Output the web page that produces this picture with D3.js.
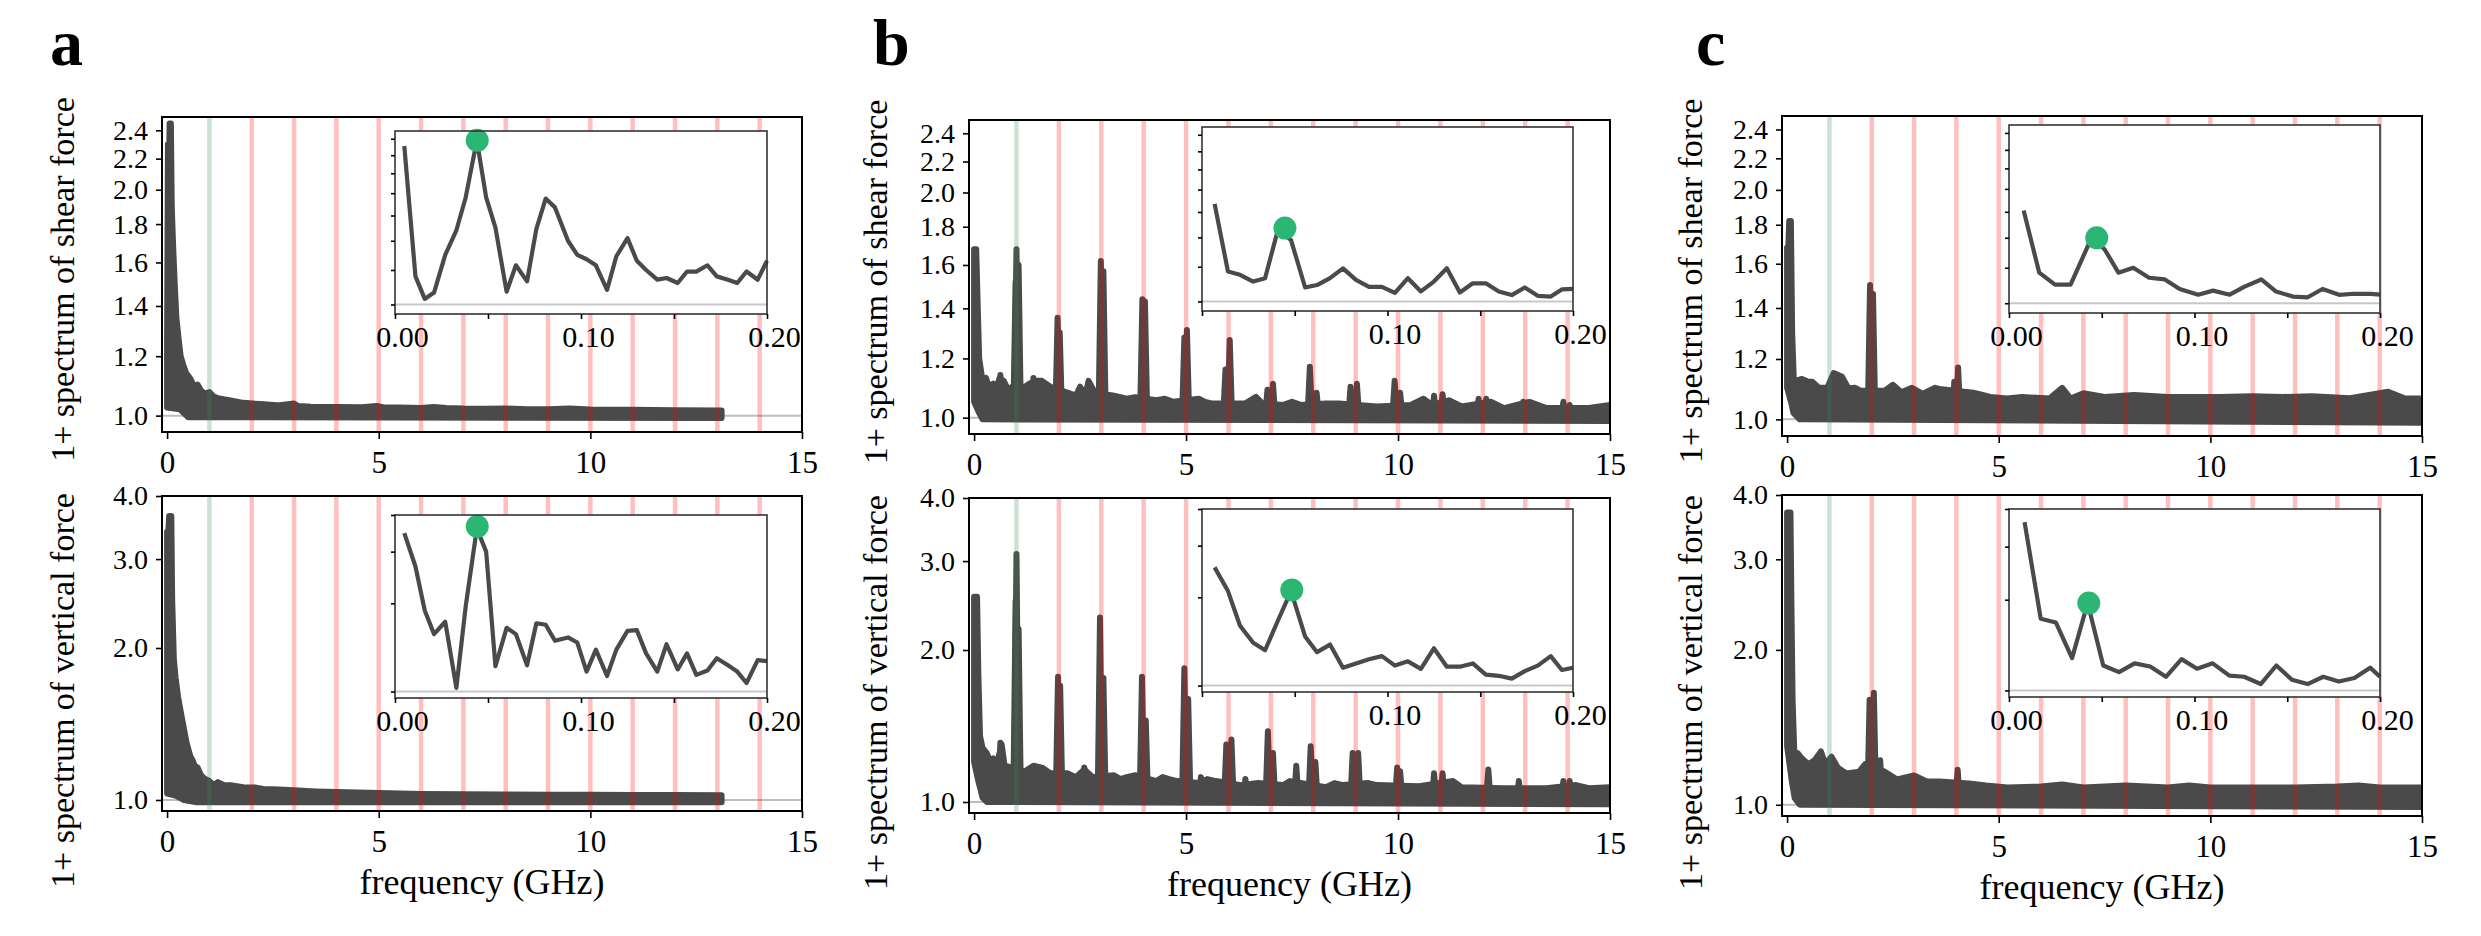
<!DOCTYPE html>
<html>
<head>
<meta charset="utf-8">
<script src="https://cdnjs.cloudflare.com/ajax/libs/d3/7.8.5/d3.min.js"></script>
<style>
  body { margin: 0; background: #fff; }
  svg, svg text { font-family: "Liberation Serif", "Times New Roman", Times, "DejaVu Serif", serif; }
</style>
</head>
<body>
<script>
// ---- tick values / reference lines ----
const xTicks = [0, 5, 10, 15];
const shearTicks = [1.0, 1.2, 1.4, 1.6, 1.8, 2.0, 2.2, 2.4];
const vertTicks = [1.0, 2.0, 3.0, 4.0];
const insetTicks = [0, 0.05, 0.10, 0.15, 0.20];
const insetLabelTicks = [0, 0.10, 0.20];
const greenLines = [1];
const redLines = [2, 3, 4, 5, 6, 7, 8, 9, 10, 11, 12, 13, 14];

// ---- panel a : spectrum envelopes [GHz, 1+spectrum] ----
const aShearUpper = [[0,1.25],[0.02,2.3],[0.04,2.0],[0.06,2.45],[0.09,2.45],[0.11,1.9],[0.14,1.7],[0.18,1.5],[0.22,1.35],[0.27,1.27],[0.32,1.2],[0.38,1.17],[0.45,1.14],[0.55,1.12],[0.65,1.09],[0.72,1.1],[0.8,1.08],[0.9,1.07],[1.0,1.075],[1.1,1.06],[1.2,1.055],[1.5,1.048],[1.8,1.04],[2.2,1.036],[2.6,1.032],[3.0,1.038],[3.1,1.03],[3.4,1.028],[4.0,1.027],[4.6,1.026],[4.95,1.03],[5.1,1.026],[5.5,1.025],[6.0,1.024],[6.3,1.027],[6.6,1.024],[7.0,1.022],[7.5,1.021],[8.0,1.022],[8.5,1.02],[9,1.02],[9.5,1.022],[10,1.019],[11,1.018],[12,1.017],[13.1,1.016]];
const aShearLower = [[0,1.025],[0.3,1.02],[0.5,0.995],[13.1,0.993]];
const aShearSpikes = [];
const aVertUpper = [[0,3.4],[0.03,3.4],[0.05,3.65],[0.1,3.65],[0.12,2.5],[0.16,1.9],[0.2,1.75],[0.26,1.6],[0.32,1.5],[0.4,1.38],[0.46,1.3],[0.55,1.22],[0.6,1.2],[0.65,1.17],[0.72,1.16],[0.8,1.12],[0.9,1.1],[1.0,1.09],[1.1,1.07],[1.2,1.085],[1.35,1.07],[1.5,1.07],[1.8,1.06],[2.1,1.058],[2.3,1.05],[2.5,1.05],[3.0,1.045],[3.5,1.04],[4.0,1.037],[4.5,1.035],[5.0,1.032],[6,1.028],[7,1.026],[8,1.025],[9,1.024],[10,1.024],[11,1.023],[12,1.023],[13.1,1.022]];
const aVertLower = [[0,1.03],[0.2,1.02],[0.4,1.0],[0.7,0.99],[13.1,0.99]];
const aVertSpikes = [];

// ---- panel b ----
const bShearUpper = [[0,1.68],[0.05,1.68],[0.08,1.45],[0.12,1.2],[0.2,1.12],[0.28,1.13],[0.35,1.1],[0.45,1.11],[0.52,1.09],[0.6,1.13],[0.7,1.12],[0.8,1.09],[0.9,1.1],[1.2,1.1],[1.3,1.11],[1.45,1.12],[1.6,1.12],[1.8,1.1],[2.2,1.08],[2.4,1.07],[2.5,1.1],[2.62,1.07],[2.7,1.12],[2.85,1.08],[3.3,1.07],[3.6,1.06],[3.8,1.065],[4.3,1.055],[4.5,1.06],[4.7,1.05],[5.3,1.06],[5.45,1.05],[5.6,1.045],[6.4,1.045],[6.65,1.066],[6.8,1.045],[7.3,1.04],[7.5,1.05],[7.7,1.04],[8.3,1.045],[8.6,1.045],[9.5,1.035],[10.3,1.04],[10.6,1.06],[10.8,1.04],[11.2,1.055],[11.5,1.035],[12.2,1.05],[12.5,1.03],[13.1,1.05],[13.5,1.03],[14.5,1.03],[15,1.04]];
const bShearLower = [[0,1.05],[0.1,1.02],[0.2,0.995],[15,0.99]];
const bShearSpikes = [[0.98,1.52],[1.0,1.68],[1.05,1.6],[1.97,1.36],[2.02,1.3],[2.99,1.62],[3.05,1.57],[3.97,1.44],[4.03,1.43],[4.96,1.28],[5.02,1.31],[5.93,1.16],[6.03,1.27],[6.92,1.09],[7.05,1.11],[7.92,1.17],[8.08,1.08],[8.88,1.1],[9.03,1.11],[9.92,1.12],[10.05,1.08],[10.85,1.07],[11.05,1.075],[11.9,1.06],[12.08,1.06],[12.95,1.05],[13.9,1.05],[14.05,1.04],[0.62,1.14],[1.4,1.13]];
const bVertUpper = [[0,2.55],[0.07,2.55],[0.1,1.8],[0.14,1.35],[0.2,1.28],[0.3,1.25],[0.38,1.2],[0.45,1.22],[0.55,1.2],[0.65,1.3],[0.72,1.18],[0.9,1.17],[1.2,1.15],[1.4,1.18],[1.6,1.17],[1.8,1.14],[2.2,1.14],[2.4,1.12],[2.6,1.16],[2.8,1.12],[3.3,1.13],[3.45,1.11],[3.6,1.12],[3.8,1.13],[4.3,1.1],[4.45,1.12],[4.6,1.11],[4.8,1.1],[5.3,1.09],[5.5,1.11],[5.7,1.1],[6.3,1.08],[6.7,1.09],[7.3,1.08],[7.45,1.1],[8.3,1.07],[8.5,1.09],[8.7,1.08],[9.3,1.09],[9.5,1.08],[10.5,1.075],[11.3,1.1],[11.5,1.07],[12.5,1.065],[13.5,1.065],[14.2,1.08],[14.5,1.065],[15,1.07]];
const bVertLower = [[0,1.2],[0.1,1.1],[0.2,1.02],[0.3,1.0],[15,0.99]];
const bVertSpikes = [[0.98,2.5],[1.0,3.1],[1.05,2.2],[1.98,1.77],[2.03,1.7],[2.97,2.32],[3.05,1.76],[3.96,1.77],[4.05,1.45],[4.96,1.84],[5.05,1.6],[5.95,1.3],[6.07,1.33],[6.93,1.38],[7.05,1.25],[7.6,1.18],[7.94,1.29],[8.05,1.2],[8.93,1.25],[9.06,1.25],[9.98,1.17],[10.05,1.15],[10.85,1.14],[11.05,1.14],[12.13,1.16],[12.85,1.1],[13.9,1.1],[14.05,1.1],[0.62,1.31],[2.6,1.17],[5.35,1.12],[6.4,1.11]];

// ---- panel c ----
const cShearUpper = [[0,1.68],[0.03,1.68],[0.05,1.82],[0.09,1.82],[0.12,1.3],[0.16,1.12],[0.25,1.126],[0.35,1.13],[0.5,1.12],[0.6,1.12],[0.75,1.1],[0.95,1.1],[1.1,1.15],[1.3,1.137],[1.45,1.098],[1.6,1.1],[1.75,1.09],[2.3,1.09],[2.5,1.11],[2.7,1.085],[2.95,1.1],[3.2,1.08],[3.5,1.1],[3.65,1.095],[4.4,1.084],[4.8,1.07],[5.2,1.065],[5.55,1.07],[6.2,1.065],[6.5,1.1],[6.7,1.065],[7.0,1.082],[7.5,1.07],[8.2,1.076],[9,1.07],[10.2,1.07],[11,1.072],[11.7,1.07],[12.4,1.072],[13.3,1.066],[14.2,1.087],[14.6,1.065],[15,1.065]];
const cShearLower = [[0,1.1],[0.1,1.05],[0.15,1.02],[0.3,1.0],[15,0.99]];
const cShearSpikes = [[1.96,1.5],[2.03,1.46],[3.95,1.12],[4.04,1.17]];
const cVertUpper = [[0,3.7],[0.08,3.7],[0.1,2.55],[0.13,1.6],[0.18,1.2],[0.25,1.26],[0.35,1.23],[0.5,1.2],[0.65,1.22],[0.8,1.27],[0.9,1.2],[1.05,1.24],[1.2,1.18],[1.4,1.15],[1.7,1.16],[1.85,1.2],[2.3,1.16],[2.6,1.12],[3.0,1.14],[3.3,1.11],[3.6,1.11],[4.3,1.1],[4.7,1.09],[5.2,1.08],[6,1.085],[6.5,1.095],[7,1.08],[8,1.09],[9,1.08],[9.5,1.09],[10,1.08],[11,1.08],[12,1.08],[13,1.085],[13.5,1.09],[14,1.08],[15,1.08]];
const cVertLower = [[0,1.3],[0.12,1.1],[0.18,1.03],[0.3,1.0],[15,0.99]];
const cVertSpikes = [[1.95,1.6],[2.05,1.65],[2.2,1.22],[4.03,1.17]];

// ---- inset curves (low frequency zoom, GHz) ----
const insetFreqA = [0.005,0.011,0.016,0.021,0.027,0.033,0.038,0.044,0.049,0.054,0.060,0.065,0.071,0.076,0.081,0.086,0.093,0.098,0.103,0.108,0.114,0.119,0.125,0.130,0.135,0.141,0.146,0.152,0.157,0.162,0.168,0.173,0.179,0.184,0.189,0.195,0.200];
const insetAShear = [2.31,1.16,1.03,1.065,1.30,1.48,1.76,2.38,1.76,1.50,1.07,1.23,1.13,1.49,1.75,1.67,1.40,1.30,1.27,1.23,1.08,1.29,1.42,1.26,1.20,1.14,1.15,1.12,1.19,1.19,1.23,1.16,1.14,1.12,1.19,1.14,1.26];
const insetAVert = [3.47,2.67,1.89,1.57,1.73,1.03,1.95,3.6,3.0,1.22,1.65,1.57,1.23,1.71,1.69,1.49,1.53,1.47,1.17,1.39,1.13,1.39,1.61,1.62,1.35,1.17,1.45,1.19,1.35,1.14,1.18,1.30,1.23,1.17,1.07,1.28,1.27];
const insetFreqB = [0.0068,0.014,0.0205,0.0276,0.034,0.041,0.048,0.0556,0.062,0.069,0.076,0.083,0.090,0.097,0.104,0.111,0.118,0.125,0.132,0.139,0.146,0.153,0.160,0.167,0.174,0.181,0.188,0.194,0.200];
const insetBShear = [1.67,1.17,1.15,1.11,1.13,1.46,1.38,1.076,1.09,1.13,1.19,1.12,1.08,1.08,1.046,1.13,1.054,1.11,1.19,1.048,1.10,1.10,1.054,1.034,1.076,1.03,1.026,1.065,1.068];
const insetBVert = [2.53,2.10,1.60,1.40,1.32,1.67,2.10,1.47,1.30,1.38,1.15,1.19,1.23,1.26,1.17,1.21,1.14,1.34,1.16,1.16,1.19,1.09,1.08,1.056,1.12,1.17,1.26,1.13,1.15];
const insetFreqCShear = [0.0079,0.0163,0.0248,0.0332,0.0445,0.0515,0.059,0.067,0.0755,0.084,0.092,0.102,0.110,0.119,0.127,0.136,0.144,0.153,0.161,0.169,0.178,0.186,0.195,0.200];
const insetCShear = [1.61,1.17,1.10,1.10,1.40,1.32,1.17,1.20,1.14,1.13,1.076,1.045,1.067,1.045,1.089,1.13,1.062,1.035,1.031,1.076,1.044,1.05,1.049,1.045];
const insetFreqCVert = [0.0084,0.0171,0.0253,0.034,0.0424,0.0508,0.0593,0.0677,0.0761,0.0846,0.093,0.1014,0.1098,0.1188,0.1267,0.1357,0.1441,0.1525,0.161,0.1694,0.1778,0.1862,0.1947,0.200];
const insetCVert = [3.62,1.73,1.68,1.28,1.95,1.21,1.15,1.23,1.20,1.11,1.27,1.18,1.23,1.12,1.11,1.05,1.21,1.085,1.05,1.11,1.07,1.10,1.19,1.11];
// green markers [GHz, value]
const peakAShear = [0.0442, 2.38], peakAVert = [0.0442, 3.66];
const peakBShear = [0.0447, 1.47], peakBVert = [0.0484, 2.12];
const peakCShear = [0.0473, 1.40], peakCVert = [0.043, 1.95];

// ---- drawing ----
const W = 2481, H = 936;
const lineColor = '#4a4a4a';
const serif = '"Liberation Serif", "Times New Roman", Times, "DejaVu Serif", serif';
var svg = d3.select('body').append('svg').attr('width', W).attr('height', H);
svg.append('rect').attr('width', W).attr('height', H).attr('fill', '#fff');
var clipCount = 0;

function styleAxis(g) {
    g.attr('font-family', null);
    g.select('.domain').remove();
    g.selectAll('.tick line').attr('stroke', '#000').attr('stroke-width', 1.6);
    g.selectAll('.tick text').filter(function () { return this.textContent === ''; }).remove();
}

function createInset(spec) {
    var inset = spec;
    inset.draw = function (g) {
        var x = d3.scaleLinear().domain([0, 0.2]).range([spec.x0, spec.x1]);
        var y = d3.scaleLog().domain(spec.yDomain).range([spec.bottom, spec.top]);
        g.append('rect').attr('x', spec.x0).attr('y', spec.top)
            .attr('width', spec.x1 - spec.x0).attr('height', spec.bottom - spec.top)
            .attr('fill', '#fff');
        g.append('line').attr('x1', spec.x0).attr('x2', spec.x1)
            .attr('y1', y(1)).attr('y2', y(1))
            .attr('stroke', '#c8c8c8').attr('stroke-width', 2);
        var pts = spec.freq.map((f, i) => [f, spec.vals[i]]);
        g.append('path').attr('d', d3.line().x(d => x(d[0])).y(d => y(d[1]))(pts))
            .attr('fill', 'none').attr('stroke', lineColor).attr('stroke-width', 4.2)
            .attr('stroke-linejoin', 'round');
        g.append('circle').attr('cx', x(spec.peak[0])).attr('cy', y(spec.peak[1]))
            .attr('r', 11.5).attr('fill', '#2bb673');
        g.append('rect').attr('x', spec.x0).attr('y', spec.top)
            .attr('width', spec.x1 - spec.x0).attr('height', spec.bottom - spec.top)
            .attr('fill', 'none').attr('stroke', '#333').attr('stroke-width', 1.6);

        var labels = spec.showZero ? insetLabelTicks : insetLabelTicks.slice(1);
        var xa = g.append('g').attr('transform', `translate(0,${spec.bottom})`)
            .call(d3.axisBottom(x).tickValues(insetTicks).tickSize(5).tickPadding(7)
                .tickFormat(d => labels.indexOf(d) >= 0 ? d3.format('.2f')(d) : ''));
        styleAxis(xa);
        xa.selectAll('text').attr('font-size', 30).attr('dx', 7);
        var ya = g.append('g').attr('transform', `translate(${spec.x0},0)`)
            .call(d3.axisLeft(y).tickValues(spec.yTicks).tickSize(4).tickFormat(''));
        styleAxis(ya);
    };
    return inset;
}

function createAxes(spec) {
    var ax = spec;
    ax.draw = function (g) {
        var x = d3.scaleLinear().domain([-0.12, 15]).range([spec.x0, spec.x1]);
        var y = d3.scaleLog().domain(spec.yDomain).range([spec.bottom, spec.top]);
        var id = 'clip' + (clipCount++);
        g.append('clipPath').attr('id', id).append('rect')
            .attr('x', spec.x0).attr('y', spec.top)
            .attr('width', spec.x1 - spec.x0).attr('height', spec.bottom - spec.top);
        var plot = g.append('g').attr('clip-path', `url(#${id})`);

        // baseline at 1
        plot.append('line').attr('x1', spec.x0).attr('x2', spec.x1)
            .attr('y1', y(1)).attr('y2', y(1))
            .attr('stroke', '#bdbdbd').attr('stroke-width', 2);

        // noisy spectrum drawn as its envelope band
        var band = spec.upper.concat(spec.lower.slice().reverse());
        var line = d3.line().x(d => x(d[0])).y(d => y(d[1]));
        plot.append('path').attr('d', line(band) + 'Z')
            .attr('fill', lineColor).attr('stroke', lineColor)
            .attr('stroke-width', 6).attr('stroke-linejoin', 'round');
        spec.spikes.forEach(s => {
            plot.append('path')
                .attr('d', line([[s[0] - 0.055, 1.0], [s[0], s[1]], [s[0] + 0.055, 1.0]]))
                .attr('fill', lineColor).attr('stroke', lineColor)
                .attr('stroke-width', 6).attr('stroke-linejoin', 'round');
        });

        // harmonic markers
        plot.selectAll('.gl').data(greenLines).enter().append('line')
            .attr('x1', d => x(d)).attr('x2', d => x(d))
            .attr('y1', spec.top).attr('y2', spec.bottom)
            .attr('stroke', 'rgba(46,139,87,0.25)').attr('stroke-width', 4.5);
        plot.selectAll('.rl').data(redLines).enter().append('line')
            .attr('x1', d => x(d)).attr('x2', d => x(d))
            .attr('y1', spec.top).attr('y2', spec.bottom)
            .attr('stroke', 'rgba(255,0,0,0.25)').attr('stroke-width', 4.5);

        createInset(spec.inset).draw(g.append('g'));

        g.append('rect').attr('x', spec.x0).attr('y', spec.top)
            .attr('width', spec.x1 - spec.x0).attr('height', spec.bottom - spec.top)
            .attr('fill', 'none').attr('stroke', '#000').attr('stroke-width', 2);

        var xa = g.append('g').attr('transform', `translate(0,${spec.bottom})`)
            .call(d3.axisBottom(x).tickValues(xTicks).tickSize(7).tickPadding(12)
                .tickFormat(d3.format('d')));
        styleAxis(xa);
        xa.selectAll('text').attr('font-size', 31);

        var ya = g.append('g').attr('transform', `translate(${spec.x0},0)`)
            .call(d3.axisLeft(y).tickValues(spec.yTicks).tickSize(6).tickPadding(8)
                .tickFormat(d3.format('.1f')));
        styleAxis(ya);
        ya.selectAll('text').attr('font-size', 28);

        g.append('text')
            .attr('transform', `translate(${spec.labelX},${spec.labelY}) rotate(-90)`)
            .attr('text-anchor', 'middle').attr('font-size', 34)
            .text(spec.ylabel);
    };
    return ax;
}

// panel layout (pixels)
var panels = [
    { name: 'a', nx: 50, x0: 162, x1: 802, top: [117, 432], bot: [496, 811], ix: [395, 767], itop: [131, 314], ibot: [515, 698], lx: 74,
      shear: [aShearUpper, aShearLower, aShearSpikes], vert: [aVertUpper, aVertLower, aVertSpikes],
      insetShear: [insetFreqA, insetAShear, peakAShear], insetVert: [insetFreqA, insetAVert, peakAVert], zero: true },
    { name: 'b', nx: 873, x0: 969, x1: 1610, top: [120, 434], bot: [498, 813], ix: [1202, 1573], itop: [127, 311], ibot: [509, 692], lx: 887,
      shear: [bShearUpper, bShearLower, bShearSpikes], vert: [bVertUpper, bVertLower, bVertSpikes],
      insetShear: [insetFreqB, insetBShear, peakBShear], insetVert: [insetFreqB, insetBVert, peakBVert], zero: false },
    { name: 'c', nx: 1696, x0: 1782, x1: 2422, top: [116, 436], bot: [495, 816], ix: [2009, 2380], itop: [125, 313], ibot: [509, 697], lx: 1702,
      shear: [cShearUpper, cShearLower, cShearSpikes], vert: [cVertUpper, cVertLower, cVertSpikes],
      insetShear: [insetFreqCShear, insetCShear, peakCShear], insetVert: [insetFreqCVert, insetCVert, peakCVert], zero: true }
];

panels.forEach(p => {
    var rows = [
        { r: p.top, ir: p.itop, dom: [0.951, 2.5], ticks: shearTicks, d: p.shear, ins: p.insetShear,
          label: '1+ spectrum of shear force', ly: (p.top[0] + p.top[1]) / 2 + 5 },
        { r: p.bot, ir: p.ibot, dom: [0.951, 4.0], ticks: vertTicks, d: p.vert, ins: p.insetVert,
          label: '1+ spectrum of vertical force', ly: (p.bot[0] + p.bot[1]) / 2 + 37 }
    ];
    rows.forEach(row => {
        var ax = createAxes({
            x0: p.x0, x1: p.x1, top: row.r[0], bottom: row.r[1],
            yDomain: row.dom, yTicks: row.ticks,
            upper: row.d[0], lower: row.d[1], spikes: row.d[2],
            labelX: p.lx, labelY: row.ly, ylabel: row.label,
            inset: { x0: p.ix[0], x1: p.ix[1], top: row.ir[0], bottom: row.ir[1],
                     yDomain: row.dom, yTicks: row.ticks,
                     freq: row.ins[0], vals: row.ins[1], peak: row.ins[2], showZero: p.zero }
        });
        ax.draw(svg.append('g'));
    });
    svg.append('text').attr('x', (p.x0 + p.x1) / 2).attr('y', p.bot[1] + 83)
        .attr('text-anchor', 'middle').attr('font-size', 36).text('frequency (GHz)');
    svg.append('text').attr('x', p.nx).attr('y', 65)
        .attr('font-size', 66).attr('font-weight', 'bold').text(p.name);
});

// serif everywhere, as in the figure
svg.selectAll('text').style('font-family', serif).attr('fill', '#000');
</script>
</body>
</html>
